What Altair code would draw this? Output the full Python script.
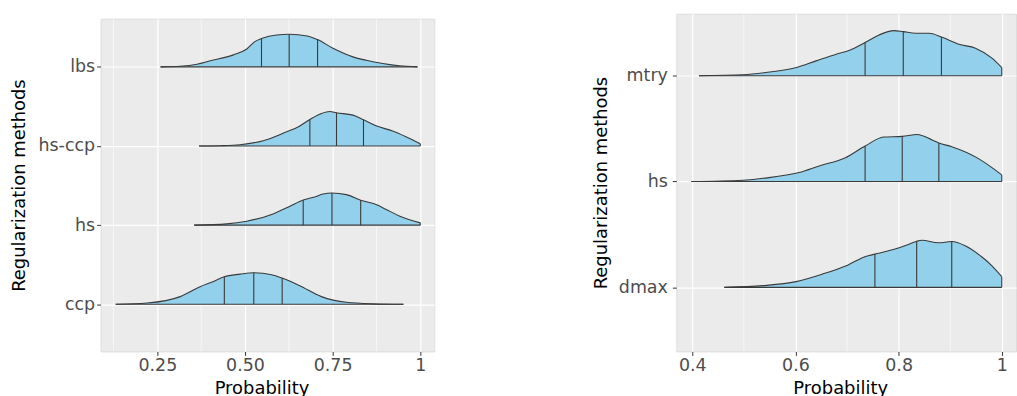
import altair as alt
import pandas as pd
import numpy as np

FONT = "DejaVu Sans"
FILL = "#93D0EB"
OUTLINE = "#3A3A3A"

# ---------------- Left panel data (bottom -> top) ----------------
left_methods = ["ccp", "hs", "hs-ccp", "lbs"]

ccp_x = [0.131, 0.221, 0.315, 0.372, 0.410, 0.441, 0.486, 0.525, 0.576, 0.606, 0.656, 0.718, 0.789, 0.865, 0.952]
ccp_h = [0.0, 0.016, 0.097, 0.223, 0.289, 0.349, 0.381, 0.399, 0.374, 0.331, 0.235, 0.097, 0.025, 0.006, 0.0]
ccp_q = [0.441, 0.525, 0.606]

hsL_x = [0.355, 0.448, 0.505, 0.580, 0.628, 0.666, 0.699, 0.723, 0.748, 0.789, 0.830, 0.874, 0.903, 0.940, 1.0]
hsL_h = [0.0, 0.016, 0.050, 0.142, 0.239, 0.318, 0.356, 0.394, 0.406, 0.386, 0.315, 0.260, 0.198, 0.117, 0.029]
hsL_q = [0.666, 0.748, 0.830]

hsccp_x = [0.369, 0.429, 0.486, 0.552, 0.619, 0.647, 0.685, 0.718, 0.742, 0.761, 0.808, 0.838, 0.874, 0.921, 0.959, 1.0]
hsccp_h = [0.0, 0.004, 0.016, 0.067, 0.180, 0.230, 0.335, 0.410, 0.435, 0.419, 0.390, 0.331, 0.255, 0.189, 0.117, 0.029]
hsccp_q = [0.685, 0.761, 0.838]

lbs_x = [0.259, 0.315, 0.363, 0.401, 0.467, 0.505, 0.528, 0.547, 0.590, 0.626, 0.678, 0.707, 0.751, 0.808, 0.846, 0.893, 0.940, 0.992]
lbs_h = [0.0, 0.008, 0.033, 0.076, 0.151, 0.226, 0.318, 0.357, 0.403, 0.411, 0.390, 0.344, 0.234, 0.126, 0.083, 0.042, 0.013, 0.0]
lbs_q = [0.547, 0.626, 0.707]

left_ticks = [0.25, 0.5, 0.75, 1.0]
left_tick_labels = ["0.25", "0.50", "0.75", "1"]
left_minor = [0.125, 0.375, 0.625, 0.875]

# ---------------- Right panel data (bottom -> top) ----------------
right_methods = ["dmax", "hs", "mtry"]

dmax_x = [0.462, 0.537, 0.601, 0.652, 0.701, 0.736, 0.754, 0.788, 0.820, 0.835, 0.845, 0.877, 0.903, 0.929, 0.961, 0.981, 1.0]
dmax_h = [0.0, 0.016, 0.054, 0.125, 0.210, 0.292, 0.314, 0.355, 0.408, 0.436, 0.445, 0.421, 0.433, 0.393, 0.289, 0.204, 0.101]
dmax_q = [0.754, 0.835, 0.903]

hsR_x = [0.398, 0.498, 0.537, 0.607, 0.646, 0.697, 0.735, 0.771, 0.807, 0.836, 0.865, 0.878, 0.903, 0.955, 0.981, 1.0]
hsR_h = [0.0, 0.012, 0.031, 0.085, 0.148, 0.226, 0.336, 0.421, 0.427, 0.445, 0.393, 0.364, 0.330, 0.217, 0.132, 0.063]
hsR_q = [0.735, 0.807, 0.878]

mtry_x = [0.413, 0.498, 0.550, 0.602, 0.640, 0.679, 0.705, 0.735, 0.762, 0.791, 0.809, 0.833, 0.859, 0.883, 0.917, 0.949, 0.981, 1.0]
mtry_h = [0.0, 0.009, 0.035, 0.078, 0.141, 0.204, 0.242, 0.314, 0.386, 0.427, 0.417, 0.402, 0.402, 0.367, 0.298, 0.261, 0.167, 0.078]
mtry_q = [0.735, 0.809, 0.883]

right_ticks = [0.4, 0.6, 0.8, 1.0]
right_tick_labels = ["0.4", "0.6", "0.8", "1"]
right_minor = [0.5, 0.7, 0.9]

left_curves = {"ccp": (ccp_x, ccp_h, ccp_q), "hs": (hsL_x, hsL_h, hsL_q),
               "hs-ccp": (hsccp_x, hsccp_h, hsccp_q), "lbs": (lbs_x, lbs_h, lbs_q)}
right_curves = {"dmax": (dmax_x, dmax_h, dmax_q), "hs": (hsR_x, hsR_h, hsR_q),
                "mtry": (mtry_x, mtry_h, mtry_q)}


def build_frames(methods, curves):
    rows, rules, bases = [], [], []
    for i, m in enumerate(methods):
        pos = i + 1
        xs, hs, qs = curves[m]
        for x, h in zip(xs, hs):
            rows.append(dict(method=m, x=x, top=pos + h, base=pos))
        for q in qs:
            rules.append(dict(method=m, x=q, y=pos, y2=pos + float(np.interp(q, xs, hs))))
        rules.append(dict(method=m, x=xs[-1], y=pos, y2=pos + hs[-1]))
        bases.append(dict(method=m, x=xs[0], x2=xs[-1], y=pos))
    return pd.DataFrame(rows), pd.DataFrame(rules), pd.DataFrame(bases)


def label_expr(values, labels):
    expr = "''"
    for v, lab in reversed(list(zip(values, labels))):
        expr = f"abs(datum.value - {v}) < 1e-6 ? '{lab}' : ({expr})"
    return expr


def panel(methods, curves, xdom, ydom, ticks, tick_labels, minor, width, height,
          title_x, label_pad):
    curve_df, rule_df, base_df = build_frames(methods, curves)
    minor_df = pd.DataFrame({"x": minor})

    xscale = alt.Scale(domain=xdom, nice=False, zero=False)
    yscale = alt.Scale(domain=ydom, nice=False, zero=False)
    xaxis = alt.Axis(values=ticks, labelExpr=label_expr(ticks, tick_labels),
                     title="Probability", grid=True, gridColor="white", gridWidth=1.2,
                     domain=False, tickColor="#333333", tickSize=4, tickWidth=1,
                     labelPadding=1.5, labelColor="#4D4D4D", labelFontSize=17.5,
                     labelFont=FONT, labelFlush=False, labelOverlap=False,
                     titleFont=FONT, titleFontSize=18, titleFontWeight="normal",
                     titleColor="black", titleX=width / 2 - 6, titleY=42,
                     titleAlign="center", titleBaseline="alphabetic")
    yvals = list(range(1, len(methods) + 1))
    yaxis = alt.Axis(values=yvals, labelExpr=label_expr(yvals, methods),
                     title="Regularization methods", grid=True, gridColor="white",
                     gridWidth=1.2, domain=False, tickColor="#333333", tickSize=4,
                     tickWidth=1, labelPadding=label_pad, labelColor="#4D4D4D",
                     labelFontSize=17.5, labelFont=FONT, labelOverlap=False,
                     titleFont=FONT, titleFontSize=18, titleFontWeight="normal",
                     titleColor="black", titleX=title_x, titleY=height / 2,
                     titleBaseline="alphabetic", titleAlign="center")

    minor_layer = alt.Chart(minor_df).mark_rule(color="white", strokeWidth=0.6).encode(
        x=alt.X("x:Q", scale=xscale, axis=xaxis)
    )
    area = alt.Chart(curve_df).mark_area(interpolate="monotone", color=FILL, opacity=1).encode(
        x=alt.X("x:Q", scale=xscale, axis=xaxis),
        y=alt.Y("top:Q", scale=yscale, axis=yaxis),
        y2="base:Q",
        detail="method:N",
    )
    line = alt.Chart(curve_df).mark_line(interpolate="monotone", color=OUTLINE,
                                         strokeWidth=1.1).encode(
        x=alt.X("x:Q", scale=xscale, axis=xaxis),
        y=alt.Y("top:Q", scale=yscale, axis=yaxis),
        detail="method:N",
    )
    base = alt.Chart(base_df).mark_rule(color=OUTLINE, strokeWidth=1.1).encode(
        x=alt.X("x:Q", scale=xscale, axis=xaxis),
        x2="x2:Q",
        y=alt.Y("y:Q", scale=yscale, axis=yaxis),
    )
    quant = alt.Chart(rule_df).mark_rule(color=OUTLINE, strokeWidth=1.1).encode(
        x=alt.X("x:Q", scale=xscale, axis=xaxis),
        y=alt.Y("y:Q", scale=yscale, axis=yaxis),
        y2="y2:Q",
    )
    return alt.layer(minor_layer, area, line, base, quant).properties(
        width=width, height=height, view=alt.ViewBackground(fill="#EBEBEB")
    )


left = panel(left_methods, left_curves, [0.088, 1.04], [0.405, 4.608],
             left_ticks, left_tick_labels, left_minor, 335, 334, -76, 2)
right = panel(right_methods, right_curves, [0.369, 1.0276], [0.3945, 3.5865],
              right_ticks, right_tick_labels, right_minor, 341, 339, -70, 5)

spacer = alt.Chart(pd.DataFrame({"s": [0]})).mark_point(opacity=0).properties(width=335, height=5)
left_col = alt.vconcat(spacer, left, spacing=0, bounds="flush")

chart = alt.hconcat(left_col, right, spacing=157).properties(
    padding={"left": 10, "top": 12, "right": 0, "bottom": 0}
).configure_view(stroke="transparent").configure(background="white")

chart.save("out.html", embed_options={"renderer": "svg", "actions": False})
